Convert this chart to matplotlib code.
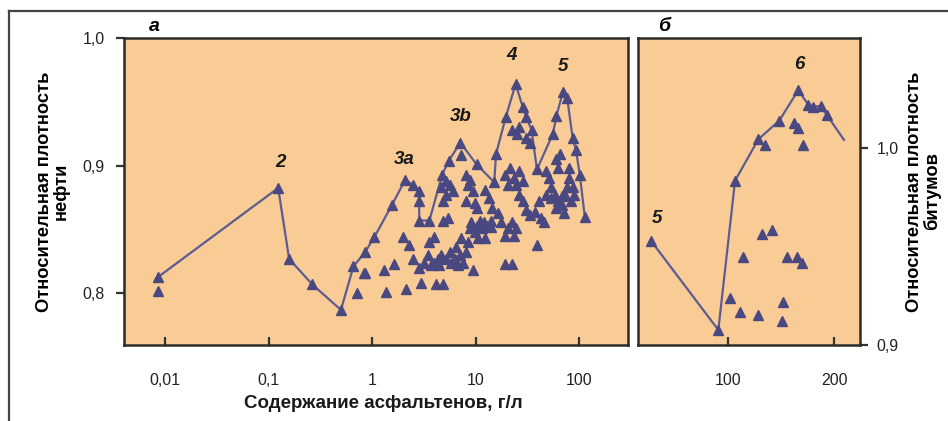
import matplotlib
matplotlib.use('Agg')
import matplotlib.pyplot as plt
from matplotlib.lines import Line2D
from matplotlib.ticker import FixedLocator, FixedFormatter, NullLocator

plt.rcParams['font.family'] = ['Liberation Sans Narrow', 'Liberation Sans', 'DejaVu Sans']

# panel a: oil density vs asphaltene content (g/l), upper envelope line
oil_line_x = [0.0085, 0.124, 0.158, 0.264, 0.50, 0.66, 0.85, 1.05, 1.55, 2.09, 2.46, 2.82,
              2.86, 3.57, 4.75, 5.51, 7.10, 10.2, 15.1, 15.7, 19.5, 24.3, 28.4, 30.8, 34.6,
              39.0, 55.6, 60.2, 69.5, 76.4, 86.1, 93.0, 101, 113]
oil_line_y = [0.8125, 0.8825, 0.827, 0.807, 0.787, 0.821, 0.832, 0.844, 0.869, 0.889, 0.885, 0.880,
              0.857, 0.857, 0.893, 0.904, 0.918, 0.901, 0.887, 0.909, 0.938, 0.964, 0.946, 0.938, 0.928,
              0.897, 0.925, 0.939, 0.958, 0.953, 0.922, 0.912, 0.893, 0.860]

oil_pts_x = [0.0085, 0.83, 0.72, 0.85, 1.31, 1.64, 1.36, 2.12, 1.97, 2.29, 2.46, 2.86, 2.97, 3.20,
             3.44, 3.57, 4.0, 4.0, 3.71, 4.31, 4.47, 4.64, 4.15, 4.81, 5.19, 5.59, 5.81, 6.26,
             6.49, 6.73, 6.99, 7.26, 7.53, 8.12, 8.43, 8.75, 9.43, 9.08, 9.78, 10.2, 10.6, 11.0,
             11.4, 11.9, 12.4, 12.9, 13.9,
             2.86, 4.64, 4.81, 5.19, 5.19, 5.59, 6.03, 4.81, 5.38, 7.26, 8.12, 8.43, 8.75, 9.43,
             9.78, 10.2, 8.12, 12.4, 13.4, 14.5, 13.9,
             16.3, 17.7, 19.1, 20.7, 22.4, 23.3, 24.3, 19.1, 21.5, 23.3, 26.3, 28.4, 24.3, 20.7,
             26.3, 28.4, 30.8, 33.3, 22.4, 25.2, 26.3, 30.8, 33.3, 19.1, 22.4, 39.0, 37.5, 40.6,
             42.3, 45.7,
             47.6, 51.4, 53.5, 47.6, 57.9, 60.2, 62.6, 67.9, 70.5, 73.4, 76.4, 79.4, 79.4, 86.1,
             89.4, 65.2, 60.2, 62.6, 82.7, 53.5, 67.9]
oil_pts_y = [0.802, 0.816, 0.8005, 0.816, 0.818, 0.823, 0.801, 0.803, 0.844, 0.838, 0.827, 0.820, 0.808, 0.824,
             0.830, 0.840, 0.844, 0.824, 0.822, 0.827, 0.822, 0.830, 0.807, 0.807, 0.827, 0.832, 0.824, 0.827,
             0.836, 0.822, 0.830, 0.843, 0.824, 0.832, 0.840, 0.851, 0.818, 0.856, 0.848, 0.853, 0.843, 0.857,
             0.851, 0.856, 0.843, 0.853, 0.852,
             0.872, 0.883, 0.872, 0.888, 0.877, 0.885, 0.880, 0.857, 0.859, 0.908, 0.893, 0.885, 0.889, 0.880,
             0.871, 0.867, 0.872, 0.881, 0.875, 0.867, 0.857,
             0.863, 0.856, 0.845, 0.851, 0.856, 0.845, 0.851, 0.893, 0.898, 0.890, 0.896, 0.888, 0.885, 0.885,
             0.877, 0.872, 0.865, 0.861, 0.928, 0.925, 0.930, 0.922, 0.918, 0.823, 0.823, 0.838, 0.864, 0.872,
             0.859, 0.856,
             0.896, 0.890, 0.883, 0.877, 0.877, 0.867, 0.872, 0.869, 0.863, 0.877, 0.883, 0.890, 0.898, 0.883,
             0.877, 0.909, 0.905, 0.898, 0.872, 0.875, 0.876]

oil_labels = ['2', '3a', '3b', '4', '5']
oil_label_x = [0.130, 2.05, 7.14, 22.4, 70]
oil_label_y = [0.896, 0.898, 0.932, 0.980, 0.971]

# panel b: bitumen density
bit_line_x = [27.1, 90.8, 106.6, 128.6, 148.4, 166.3, 175.8, 180.5, 187.4, 193.1]
bit_line_y = [0.953, 0.9076, 0.9834, 1.0044, 1.0139, 1.0294, 1.0218, 1.0210, 1.0213, 1.0168]
bit_tail_x = [193.1, 209.4]
bit_tail_y = [1.0168, 1.0041]

bit_pts_x = [134.9, 162.3, 166.3, 171.0, 131.8, 141.2, 113.8, 155.4, 164.8, 169.5, 101.9, 111.3,
             128.6, 152.2, 150.7]
bit_pts_y = [1.0015, 1.0125, 1.0100, 1.0015, 0.9563, 0.9584, 0.9445, 0.9445, 0.9445, 0.9415, 0.9237,
             0.9169, 0.9152, 0.9220, 0.9122]

bit_labels = ['5', '6']
bit_label_x = [33.3, 167.3]
bit_label_y = [0.9598, 1.038]

oil_xticks = [0.01, 0.1, 1, 10, 100]
oil_xticklabels = ['0,01', '0,1', '1', '10', '100']
oil_yticks = [0.8, 0.9, 1.0]
oil_yticklabels = ['0,8', '0,9', '1,0']
bit_xticks = [100, 200]
bit_xticklabels = ['100', '200']
bit_yticks = [0.9, 1.0]
bit_yticklabels = ['0,9', '1,0']

bg = '#F9CC95'
mark = '#4A4880'
linec = '#5D5C92'
spine = '#2B2B2B'

W, H = 948, 421
fig = plt.figure(figsize=(W / 100, H / 100), dpi=100)

ax1 = fig.add_axes([124 / W, 1 - 345 / H, 504 / W, 307 / H])
ax2 = fig.add_axes([638 / W, 1 - 345 / H, 222 / W, 307 / H])

for ax in (ax1, ax2):
    ax.set_facecolor(bg)
    for s in ax.spines.values():
        s.set_color(spine)
        s.set_linewidth(1.8)
    ax.tick_params(axis='both', labelsize=11.5, colors='#333333', labelcolor='#222222',
                   width=1.6, length=6)

# panel a
ax1.set_xscale('log')
ax1.plot(oil_line_x, oil_line_y, color=linec, lw=1.6, zorder=2)
ax1.plot(oil_line_x, oil_line_y, ls='none', marker='^', ms=7.5, color=mark, zorder=3)
ax1.plot(oil_pts_x, oil_pts_y, ls='none', marker='^', ms=7.5, color=mark, zorder=3)
for t, x, y in zip(oil_labels, oil_label_x, oil_label_y):
    ax1.text(x, y, t, fontsize=13.5, fontweight='bold', style='italic', ha='center', va='bottom',
             color='#1a1a1a', family=['Liberation Sans', 'DejaVu Sans'])
ax1.set_xlim(10 ** -2.395, 10 ** 2.47)
ax1.set_ylim(0.7595, 1.0)
ax1.xaxis.set_major_locator(FixedLocator(oil_xticks))
ax1.xaxis.set_major_formatter(FixedFormatter(oil_xticklabels))
ax1.xaxis.set_minor_locator(NullLocator())
ax1.set_yticks(oil_yticks)
ax1.set_yticklabels(oil_yticklabels)
ax1.tick_params(axis='x', direction='in', pad=20)
ax1.tick_params(axis='y', direction='out', pad=8)
ax1.set_ylabel('Относительная плотность\nнефти', fontsize=13.2, fontweight='bold',
               labelpad=9, linespacing=1.0)
ax1.text(0.05, 1.01, 'а', transform=ax1.transAxes, fontsize=14, fontweight='bold',
         style='italic', va='bottom', family=['Liberation Sans', 'DejaVu Sans'])

# panel b
ax2.plot(bit_tail_x, bit_tail_y, color=linec, lw=1.6, zorder=2)
ax2.plot(bit_line_x, bit_line_y, color=linec, lw=1.6, zorder=2)
ax2.plot(bit_line_x, bit_line_y, ls='none', marker='^', ms=7.5, color=mark, zorder=3)
ax2.plot(bit_pts_x, bit_pts_y, ls='none', marker='^', ms=7.5, color=mark, zorder=3)
for t, x, y in zip(bit_labels, bit_label_x, bit_label_y):
    ax2.text(x, y, t, fontsize=13.5, fontweight='bold', style='italic', ha='center', va='bottom',
             color='#1a1a1a', family=['Liberation Sans', 'DejaVu Sans'])
ax2.set_xlim(15, 224.5)
ax2.set_ylim(0.9, 1.0558)
ax2.set_xticks(bit_xticks)
ax2.set_xticklabels(bit_xticklabels)
ax2.yaxis.tick_right()
ax2.yaxis.set_label_position('right')
ax2.set_yticks(bit_yticks)
ax2.set_yticklabels(bit_yticklabels)
ax2.tick_params(axis='x', direction='in', pad=20)
ax2.tick_params(axis='y', direction='out', pad=6)
ax2.set_ylabel('Относительная плотность\nбитумов', fontsize=13.2, fontweight='bold',
               labelpad=5, linespacing=1.0)
ax2.text(0.09, 1.01, 'б', transform=ax2.transAxes, fontsize=14, fontweight='bold',
         style='italic', va='bottom', family=['Liberation Sans', 'DejaVu Sans'])

fig.text(383 / W, 1 - 404 / H, 'Содержание асфальтенов, г/л', fontsize=13.5, fontweight='bold',
         ha='center', va='center', color='#1a1a1a')

# outer frame (left and top edges)
fx, fy = 8.5 / W, 1 - 10.5 / H
fig.add_artist(Line2D([fx, fx], [0, fy], transform=fig.transFigure, color='#444444', lw=1.6))
fig.add_artist(Line2D([fx, 1], [fy, fy], transform=fig.transFigure, color='#444444', lw=1.6))

fig.savefig('out.png', dpi=100, facecolor='white')
